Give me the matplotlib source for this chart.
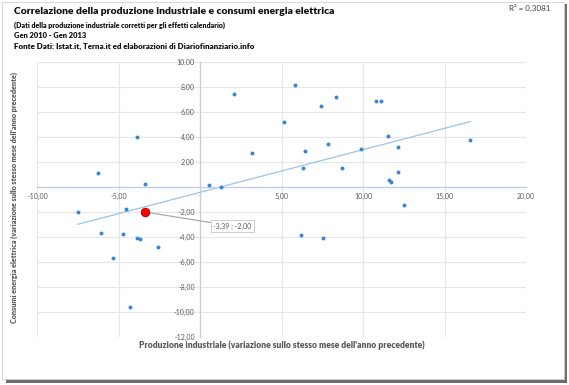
import matplotlib
matplotlib.use("Agg")
import matplotlib.pyplot as plt
from matplotlib.patches import Rectangle
from matplotlib.ticker import MultipleLocator, FuncFormatter
import numpy as np

plt.rcParams['font.family'] = ['Lato', 'DejaVu Sans']

# monthly data Jan 2010 - Jan 2013
prod_ind = [-7.52, -6.26, -3.90, -3.41, -4.54, 0.55, 1.27, 2.07, 3.19, 5.13,
            5.81, 6.44, 6.32, 7.40, 7.83, 8.33, 8.71, 9.88, 10.78, 11.11,
            11.52, 12.15, 12.11, 11.58, 11.70, 12.52, 16.59, -6.11, -4.72, -3.90,
            -3.72, -2.58, -5.34, -4.33, 6.18, 7.51]
cons_el = [-1.97, 1.10, 4.00, 0.27, -1.78, 0.13, 0.02, 7.44, 2.72, 5.20,
           8.11, 2.91, 1.50, 6.48, 3.47, 7.15, 1.52, 3.02, 6.86, 6.86,
           4.06, 3.20, 1.23, 0.54, 0.43, -1.46, 3.76, -3.68, -3.78, -4.10,
           -4.16, -4.77, -5.65, -9.62, -3.86, -4.10]
last_x, last_y = -3.39, -2.00   # highlighted point
r2_label = "R² = 0,3081"

all_x = np.array(prod_ind + [last_x])
all_y = np.array(cons_el + [last_y])
slope, icpt = np.polyfit(all_x, all_y, 1)

fig = plt.figure(figsize=(5.69, 3.85), dpi=100)
ax = fig.add_axes([0.0659, 0.1239, 0.8585, 0.7158])

ax.scatter(prod_ind, cons_el, s=8, color='#3d85d1', zorder=3, linewidths=0)
xs = np.array([all_x.min(), all_x.max()])
ax.plot(xs, slope * xs + icpt, color='#9dc3e6', lw=0.9, zorder=2)
ax.scatter([last_x], [last_y], s=38, color='#ff0000', edgecolors='#a00000',
           linewidths=0.6, zorder=4)

ax.set_xlim(-10, 20)
ax.set_ylim(-12, 10)
ax.xaxis.set_major_locator(MultipleLocator(5))
ax.yaxis.set_major_locator(MultipleLocator(2))

def fmt(v, pos):
    if abs(v) < 1e-9:
        return "-"
    return f"{v:.2f}".replace(".", ",")

ax.xaxis.set_major_formatter(FuncFormatter(fmt))
ax.yaxis.set_major_formatter(FuncFormatter(fmt))
ax.tick_params(length=0, labelsize=5, labelcolor='#595959')
ax.tick_params(axis='y', pad=4)
ax.tick_params(axis='x', pad=4)

ax.grid(True, color='#e3e6ec', lw=0.8, zorder=0)
ax.spines['left'].set_position(('data', 0))
ax.spines['bottom'].set_position(('data', 0))
for s in ['left', 'bottom']:
    ax.spines[s].set_color('#c3cde0')
    ax.spines[s].set_linewidth(0.9)
for s in ['top', 'right']:
    ax.spines[s].set_visible(False)

# data label of the last point
ax.annotate(fmt(last_x, 0) + " ; " + fmt(last_y, 0), xy=(last_x, last_y),
            xytext=(213, 385 - 226), textcoords='figure pixels', ha='left', va='center',
            fontsize=5, color='#595959',
            bbox=dict(boxstyle='square,pad=0.35', fc='white', ec='#c8c8c8', lw=0.6),
            arrowprops=dict(arrowstyle='-', color='#aaaaaa', lw=0.9,
                            shrinkA=0, shrinkB=2))

fig.text(0.025, 0.971, "Correlazione della produzione industriale e consumi energia elettrica",
         fontsize=7.5, fontweight='heavy', color='#111111', va='center')
fig.text(0.025, 0.935, "(Dati della produzione industriale corretti per gli effetti calendario)",
         fontsize=5.0, fontweight='heavy', color='#111111', va='center')
fig.text(0.025, 0.908, "Gen 2010 - Gen 2013",
         fontsize=5.4, fontweight='heavy', color='#111111', va='center')
fig.text(0.025, 0.880, "Fonte Dati: Istat.it, Terna.it ed elaborazioni di Diariofinanziario.info",
         fontsize=5.7, fontweight='heavy', color='#111111', va='center')
fig.text(0.968, 0.979, r2_label, fontsize=5.8, color='#404040', ha='right', va='center')

fig.text(0.495, 0.104, "Produzione industriale (variazione sullo stesso mese dell'anno precedente)",
         fontsize=6.15, fontweight='heavy', color='#595959', ha='center', va='center')
fig.text(0.026, 0.488, "Consumi energia elettrica (variazione sullo stesso mese dell'anno precedente)",
         fontsize=5.2, fontweight='heavy', color='#595959', ha='center', va='center',
         rotation=90)

# frame with shadow
fig.patches.append(Rectangle((6 / 569, 1 - 383 / 385), 561 / 569, 379 / 385,
                             transform=fig.transFigure, fc='#6e6e6e', ec='none', zorder=-2))
fig.patches.append(Rectangle((2 / 569, 1 - 379 / 385), 562 / 569, 377 / 385,
                             transform=fig.transFigure, fc='white', ec='#d0d0d0', lw=0.6,
                             zorder=-1))

fig.savefig("out.png", dpi=100)
